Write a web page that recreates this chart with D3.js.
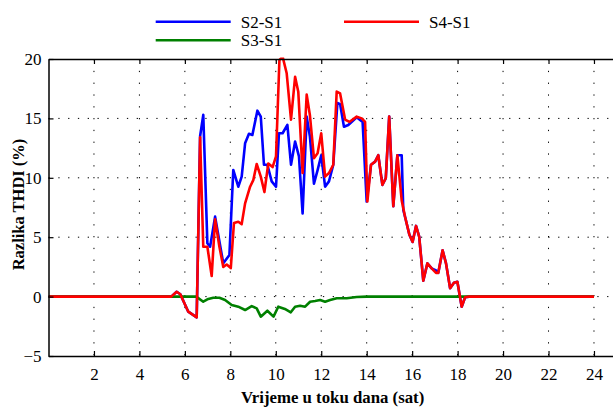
<!DOCTYPE html>
<html><head><meta charset="utf-8">
<script src="https://cdn.jsdelivr.net/npm/d3@7"></script>
<style>
html,body{margin:0;padding:0;background:#fff;overflow:hidden;}
</style></head>
<body><svg id="chart" width="613" height="408"></svg>
<script>
// ---- data ----
const xTicks = [2,4,6,8,10,12,14,16,18,20,22,24];
const yTicks = [-5,0,5,10,15,20];
const seriesNames = ["S2-S1","S3-S1","S4-S1"];
const seriesColors = ["#0000ff","#008000","#ff0000"];

const timeS2 = [0,5.4,5.64,5.8,6.15,6.52,6.67,6.81,6.99,7.11,7.33,7.69,7.96,8.13,8.35,8.5,8.65,8.82,8.97,9.19,9.34,9.48,9.63,9.82,10.01,10.14,10.3,10.51,10.67,10.85,11.02,11.18,11.36,11.5,11.68,11.84,12.0,12.17,12.34,12.53,12.71,12.83,13.0,13.19,13.56,13.82,14.0,14.19,14.37,14.51,14.69,14.84,14.99,15.17,15.35,15.54,15.61,15.69,15.88,16.02,16.17,16.31,16.49,16.67,16.86,17.05,17.15,17.34,17.49,17.67,17.84,17.99,18.18,18.33,18.5,24];
const valS2  = [0,0,0.41,0.2,-1.27,-1.75,13.5,15.3,4.49,4.2,6.73,2.8,3.5,10.66,9.25,10.1,12.9,13.7,13.6,15.65,15.15,11.1,11.1,9.7,9.25,13.75,13.75,14.45,11.1,13.05,11.8,7.0,15.15,13.5,9.5,10.65,11.9,9.25,9.7,11.1,16.3,16.2,14.3,14.45,15.1,14.7,8.0,11.1,11.36,11.9,9.4,9.96,15.15,7.6,11.9,11.9,7.3,6.7,5.2,4.6,5.95,5.05,1.34,2.8,2.38,2.2,2.0,3.9,2.8,0.7,1.17,1.25,-0.85,-0.06,0,0];

const timeS3 = [0,6.5,6.81,7.03,7.25,7.52,7.77,8.06,8.35,8.65,8.94,9.16,9.34,9.63,9.9,10.11,10.4,10.66,10.85,11.07,11.29,11.51,11.73,11.95,12.17,12.39,12.68,13.12,13.56,14,24];
const valS3  = [0,0,-0.43,-0.2,-0.1,-0.1,-0.28,-0.7,-0.85,-1.13,-0.8,-0.99,-1.69,-1.19,-1.69,-0.85,-1.04,-1.32,-0.85,-0.77,-0.85,-0.43,-0.37,-0.29,-0.43,-0.29,-0.14,-0.14,-0.03,0,0];

const timeS4 = [0,5.4,5.64,5.8,6.15,6.52,6.67,6.81,6.99,7.18,7.33,7.52,7.69,7.84,8.02,8.16,8.35,8.5,8.65,8.87,9.01,9.16,9.34,9.5,9.67,9.86,10.01,10.16,10.3,10.48,10.67,10.85,10.99,11.18,11.36,11.5,11.68,11.84,12.0,12.17,12.34,12.53,12.68,12.83,13.05,13.24,13.56,13.78,13.93,14.03,14.19,14.37,14.51,14.69,14.84,14.99,15.17,15.35,15.54,15.69,15.88,16.02,16.17,16.31,16.49,16.67,16.86,17.05,17.15,17.34,17.49,17.67,17.84,17.99,18.18,18.33,18.5,24];
const valS4  = [0,0,0.41,0.2,-1.27,-1.75,13.4,4.2,4.2,1.73,6.5,4.2,2.5,2.7,2.4,6.2,6.3,6.1,7.85,9.25,9.8,11.16,10.1,8.8,11.2,10.9,11.8,19.9,20.2,18.8,14.9,18.5,17.25,10.4,17.0,15.3,11.65,12.06,13.75,10.1,10.4,11.1,17.25,17.1,14.9,14.7,15.15,15.0,14.7,8.0,11.1,11.36,11.9,9.4,9.96,15.15,7.6,11.9,8.1,6.7,5.2,4.6,5.95,5.05,1.34,2.8,2.38,2.0,2.0,3.9,2.8,0.7,1.17,1.25,-0.85,-0.06,0,0];

const seriesTimes = [timeS2, timeS3, timeS4];
const seriesVals = [valS2, valS3, valS4];

const FONT = '"Liberation Serif","Times New Roman",Tinos,serif';

// ---- layout ----
const svg = d3.select("#chart");
const L = 48.5, R = 616.7, T = 59, B = 356;
const x = d3.scaleLinear().domain([0,25]).range([L,R]);
const y = d3.scaleLinear().domain([-5,20]).range([B,T]);

// grid
const grid = svg.append("g");
grid.selectAll("line.v").data(xTicks).join("line")
  .attr("x1",d=>x(d)).attr("x2",d=>x(d)).attr("y1",T).attr("y2",B)
  .attr("stroke","#000").attr("stroke-width",1).attr("stroke-dasharray","1.3,10.5");
grid.selectAll("line.h").data(yTicks.filter(d=>d>-5&&d<20)).join("line")
  .attr("x1",L).attr("x2",R).attr("y1",d=>y(d)).attr("y2",d=>y(d))
  .attr("stroke","#000").attr("stroke-width",1).attr("stroke-dasharray","1.3,8.5");

// clip
svg.append("clipPath").attr("id","clip").append("rect")
  .attr("x",L).attr("y",T-1.5).attr("width",R-L).attr("height",B-T+1.5);

const line = d3.line().x(d=>x(d[0])).y(d=>y(d[1]));
const lines = svg.append("g").attr("clip-path","url(#clip)");
seriesNames.forEach((n,i)=>{
  const pts = seriesTimes[i].map((t,j)=>[t, seriesVals[i][j]]);
  lines.append("path").datum(pts).attr("d",line)
    .attr("fill","none").attr("stroke",seriesColors[i])
    .attr("stroke-width",2.6).attr("stroke-linejoin","round");
});

// axes
const xAxisB = d3.axisBottom(x).tickValues(xTicks).tickSizeInner(-5).tickSizeOuter(0).tickPadding(12);
const gB = svg.append("g").attr("transform",`translate(0,${B})`).call(xAxisB);
const xAxisT = d3.axisTop(x).tickValues(xTicks).tickSizeInner(-5).tickSizeOuter(0).tickFormat("");
const gT = svg.append("g").attr("transform",`translate(0,${T})`).call(xAxisT);
const yAxisL = d3.axisLeft(y).tickValues(yTicks).tickSizeInner(-5).tickSizeOuter(0).tickPadding(7);
const gL = svg.append("g").attr("transform",`translate(${L},0)`).call(yAxisL);
[gB,gT,gL].forEach(g=>{
  g.attr("font-family",null);
  g.select(".domain").attr("stroke","#000").attr("stroke-width",1.5);
  g.selectAll(".tick line").attr("stroke","#000").attr("stroke-width",1.2);
  g.selectAll("text").style("font-family",FONT).attr("font-size",17).attr("fill","#000");
});
gB.selectAll(".tick text").attr("dy","0.71em");

// titles
svg.append("text").attr("x",(L+R)/2).attr("y",403).attr("text-anchor","middle")
  .style("font-family",FONT).attr("font-size",16.8).attr("font-weight","bold").text("Vrijeme u toku dana (sat)");
svg.append("text").attr("transform",`translate(24,${(T+B)/2-3}) rotate(-90)`).attr("text-anchor","middle")
  .style("font-family",FONT).attr("font-size",16.5).attr("font-weight","bold").text("Razlika THDI (%)");

// legend
const legPos = [[155.7,21.7],[155.7,40.3],[344,21.7]];
seriesNames.forEach((n,i)=>{
  const [lx,ly] = legPos[i];
  svg.append("line").attr("x1",lx).attr("x2",lx+75).attr("y1",ly).attr("y2",ly)
    .attr("stroke",seriesColors[i]).attr("stroke-width",2.6);
  svg.append("text").attr("x",lx+85).attr("y",ly+6).style("font-family",FONT).attr("font-size",17).text(n);
});
</script></body></html>
